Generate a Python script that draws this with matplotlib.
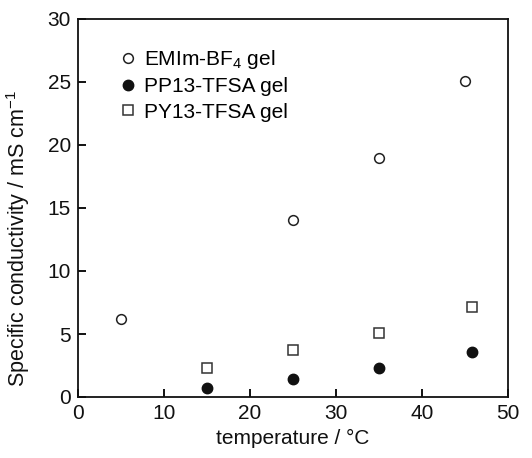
import numpy as np
import matplotlib
matplotlib.use('Agg')
import matplotlib.pyplot as plt

# data
emim_T = [5, 25, 35, 45]
emim_sigma = [6.2, 14.05, 19.0, 25.05]

pp13_T = [15, 25, 35, 45.8]
pp13_sigma = [0.75, 1.42, 2.3, 3.6]

py13_T = [15, 25, 35, 45.8]
py13_sigma = [2.3, 3.72, 5.05, 7.15]

plt.rcParams['font.family'] = ['Liberation Sans', 'DejaVu Sans']
plt.rcParams['mathtext.fontset'] = 'custom'
plt.rcParams['mathtext.rm'] = 'Liberation Sans'
plt.rcParams['mathtext.it'] = 'Liberation Sans'

fig = plt.figure(figsize=(5.32, 4.58), dpi=100)
ax = fig.add_axes([78/532, 61/458, 430/532, 378/458])

ax.plot(emim_T, emim_sigma, 'o', ms=7, mfc='white', mec='#222222', mew=1.1, ls='none',
        label='EMIm-BF$_4$ gel')
ax.plot(pp13_T, pp13_sigma, 'o', ms=7.5, mfc='#111111', mec='#111111', mew=1.0, ls='none',
        label='PP13-TFSA gel')
ax.plot(py13_T, py13_sigma, 's', ms=7, mfc='white', mec='#333333', mew=1.1, ls='none',
        label='PY13-TFSA gel')

ax.set_xlim(0, 50)
ax.set_ylim(0, 30)
ax.set_xticks([0, 10, 20, 30, 40, 50])
ax.set_yticks([0, 5, 10, 15, 20, 25, 30])

ax.tick_params(direction='in', length=6, width=1.4, labelsize=15, pad=5,
               top=False, right=False, colors='#111111')
for s in ax.spines.values():
    s.set_linewidth(1.3)
    s.set_color('#111111')

ax.set_xlabel('temperature / °C', fontsize=15, color='#111111', labelpad=4)
ax.set_ylabel('Specific conductivity / mS cm$^{\\mathregular{-1}}$', fontsize=15.5,
              color='#111111')
ax.yaxis.set_label_coords(-0.108, 0.42)

leg = ax.legend(loc='upper left', bbox_to_anchor=(0.08, 0.945), frameon=False,
                fontsize=15, handlelength=0.7, handletextpad=0.4, labelspacing=0.3,
                borderaxespad=0)

fig.savefig('out.png', dpi=100)
